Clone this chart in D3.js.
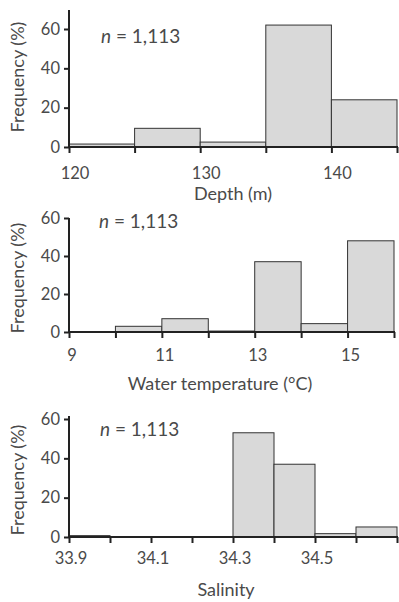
<!DOCTYPE html>
<html lang="en">
<head>
  <meta charset="UTF-8">
  <title>Frequency histograms</title>
  <script src="https://d3js.org/d3.v7.min.js"></script>
  <style>
    body { margin: 0; background: #fff; }
    text { font-family: Lato, "Open Sans", sans-serif; fill: #4a4a4a; }
  </style>
</head>
<body>
  <svg id="chart" width="399" height="602"></svg>
  <script>
    // depth bins (m), 5 m wide
    let depthEdges = [120, 125, 130, 135, 140, 145];
    let depthFreq = [1.5, 9.5, 2.5, 62, 24];
    let depthLabels = [120, 130, 140];

    // water temperature bins (degC), 1 deg wide
    let tempEdges = [9, 10, 11, 12, 13, 14, 15, 16];
    let tempFreq = [0, 3, 7, 0.5, 37, 4.4, 48];
    let tempLabels = [9, 11, 13, 15];

    // salinity bins, 0.1 wide
    let salEdges = [33.9, 34.0, 34.1, 34.2, 34.3, 34.4, 34.5, 34.6, 34.7];
    let salFreq = [0.7, 0, 0, 0, 53, 37, 1.7, 5.1];
    let salLabels = [33.9, 34.1, 34.3, 34.5];

    let yTicks = [0, 20, 40, 60];
    let nLabel = "1,113";

    let svg = d3.select('#chart');

    // one panel = one histogram
    function drawPanel(p) {
      let x = d3.scaleLinear()
        .domain([p.edges[0], p.edges[p.edges.length - 1]])
        .range([69, p.right]);
      let y = d3.scaleLinear().domain([0, 60]).range([p.bottom, p.top60]);

      let g = svg.append('g');

      let bins = p.freq.map(function (v, i) {
        return { x0: p.edges[i], x1: p.edges[i + 1], v: v };
      });

      g.selectAll('rect')
        .data(bins.filter(function (d) { return d.v > 0; }))
        .join('rect')
        .attr('x', function (d) { return x(d.x0); })
        .attr('y', function (d) { return y(d.v); })
        .attr('width', function (d) { return x(d.x1) - x(d.x0); })
        .attr('height', function (d) { return y(0) - y(d.v); })
        .attr('fill', '#d9d9d9')
        .attr('stroke', '#333')
        .attr('stroke-width', 1);

      // y axis
      let yAxis = g.append('g')
        .attr('transform', 'translate(69,0)')
        .call(d3.axisLeft(y).tickValues(yTicks).tickSize(5).tickPadding(4));
      yAxis.select('.domain').remove();
      yAxis.selectAll('line').attr('stroke', '#222').attr('stroke-width', 2);
      yAxis.selectAll('text').attr('font-size', 16.5).attr('fill', '#4a4a4a');
      g.append('line')
        .attr('x1', 69).attr('x2', 69)
        .attr('y1', p.axisTop).attr('y2', p.bottom + 1)
        .attr('stroke', '#222').attr('stroke-width', 2);

      // x axis: ticks on every bin edge, labels on some
      let xAxis = g.append('g')
        .attr('transform', 'translate(0,' + p.bottom + ')')
        .call(d3.axisBottom(x).tickValues(p.edges).tickSize(6).tickFormat(''));
      xAxis.select('.domain').remove();
      xAxis.selectAll('line').attr('stroke', '#222').attr('stroke-width', 2);
      g.append('line')
        .attr('x1', 68).attr('x2', p.right + 1)
        .attr('y1', p.bottom).attr('y2', p.bottom)
        .attr('stroke', '#222').attr('stroke-width', 2);

      g.selectAll('.xlab')
        .data(p.labels)
        .join('text')
        .attr('class', 'xlab')
        .attr('x', function (d) { return x(d) + p.labelShift; })
        .attr('y', p.labelY)
        .attr('text-anchor', 'middle')
        .attr('font-size', 16.5)
        .text(function (d) { return p.fmt(d); });

      g.append('text')
        .attr('x', p.titleX).attr('y', p.titleY)
        .attr('text-anchor', 'middle')
        .attr('font-size', 18)
        .text(p.title);

      g.append('text')
        .attr('transform', 'translate(24,' + p.ylabY + ') rotate(-90)')
        .attr('text-anchor', 'middle')
        .attr('font-size', 18)
        .text('Frequency (%)');

      let n = g.append('text')
        .attr('x', p.nX).attr('y', p.nY)
        .attr('font-size', 19);
      n.append('tspan').attr('font-style', 'italic').text('n');
      n.append('tspan').text(' = ' + nLabel);
    }

    drawPanel({
      edges: depthEdges, freq: depthFreq, labels: depthLabels,
      fmt: d3.format('d'), right: 397, bottom: 147, top60: 29, axisTop: 10,
      labelY: 179, labelShift: 6, title: 'Depth (m)', titleX: 233, titleY: 200,
      ylabY: 77, nX: 101, nY: 43
    });

    drawPanel({
      edges: tempEdges, freq: tempFreq, labels: tempLabels,
      fmt: d3.format('d'), right: 394, bottom: 332, top60: 218, axisTop: 218,
      labelY: 361, labelShift: 3, title: 'Water temperature (\u00B0C)', titleX: 220, titleY: 390,
      ylabY: 278, nX: 99, nY: 228
    });

    drawPanel({
      edges: salEdges, freq: salFreq, labels: salLabels,
      fmt: d3.format('.1f'), right: 397, bottom: 537, top60: 419, axisTop: 416,
      labelY: 564, labelShift: 2, title: 'Salinity', titleX: 226, titleY: 596,
      ylabY: 480, nX: 100, nY: 436
    });
  </script>
</body>
</html>
